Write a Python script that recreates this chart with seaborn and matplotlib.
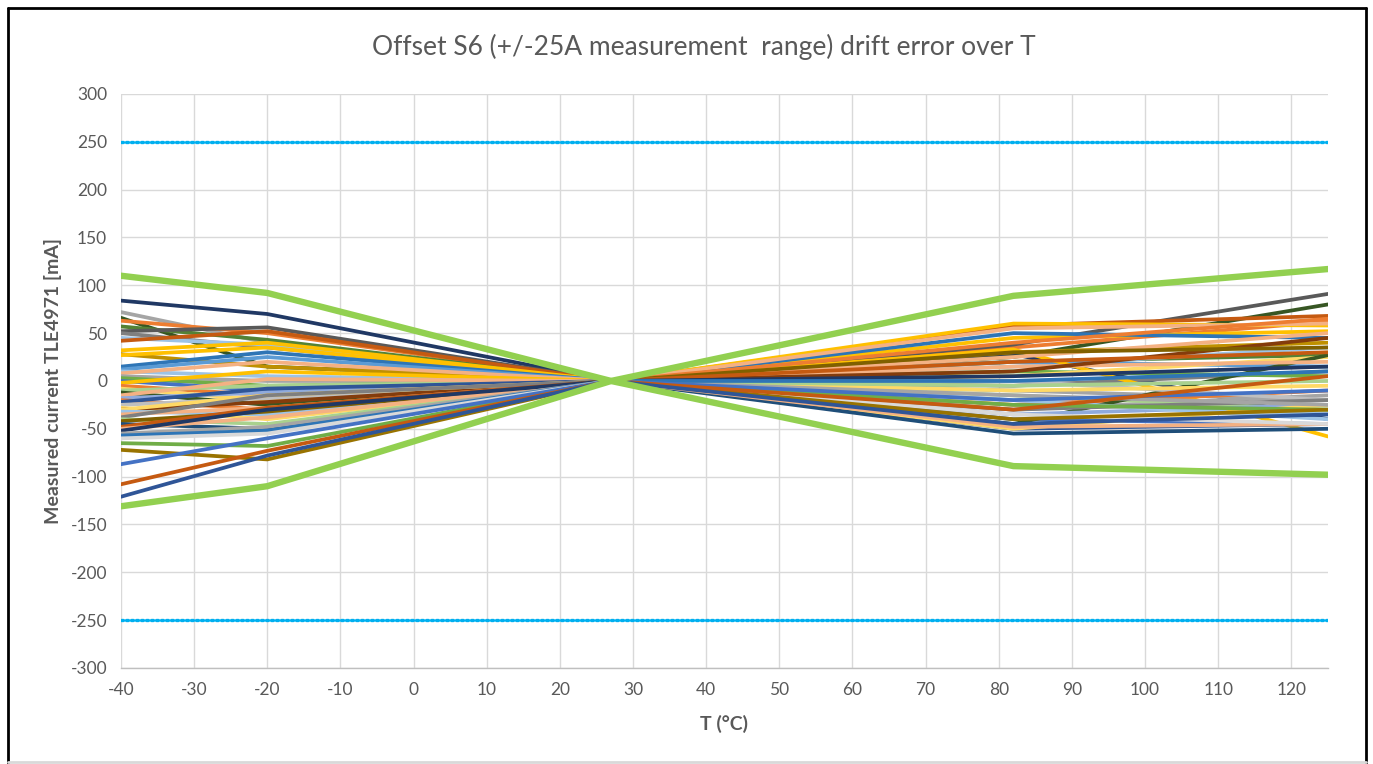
import numpy as np
import pandas as pd
import matplotlib.pyplot as plt
import seaborn as sns
from matplotlib.lines import Line2D

# measurement temperatures (°C); all curves are zeroed at the reference temperature
temps = [-40, -20, 27, 82, 125]

# offset drift per device [mA] at -40, -20, 82 and 125 °C
at_m40 = [84, 72, 66, 63, 57, 52, 50, 45, 42, 32, 28, 27, 15, 12, 10, 8, 5, 3, 0, -2,
          -5, -8, -10, -12, -15, -18, -20, -22, -25, -28, -30, -30, -32, -35, -38, -40,
          -42, -45, -48, -50, -52, -55, -57, -60, -65, -72, -87, -108, -121]
at_m20 = [70, 40, 15, 50, 43, 56, 35, 38, 52, 40, 15, 35, 30, 25, 5, 20, 0, -5, -10, 10,
          -15, -20, -5, -25, 2, -12, -30, -8, -18, -40, -22, -15, -35, -28, -15, -45,
          -32, -50, -28, -38, -30, -48, -52, -55, -68, -82, -60, -73, -78]
at_82 = [28, -10, 25, 35, 20, 38, -5, 15, 58, 45, 30, 60, 50, 20, -20, 55, -30, 10, -40, 33,
         -25, 5, -15, -45, 15, -35, 40, -50, 0, -10, 10, -50, -20, 25, -30, -5,
         30, -55, 20, -48, 5, -15, 0, -35, -25, -40, -20, -30, -45]
at_125 = [-40, -20, 80, 62, 27, 91, 10, 35, 68, 52, 40, 58, 45, 15, -35, 60, -15, 5, -45, -58,
          -10, 25, -30, 27, 20, -25, 65, -45, -20, -5, 45, -25, -40, 50, -20, 0,
          35, -50, 30, -45, 15, -25, 10, -45, -30, -30, -10, 5, -35]
line_colors = ['#203864', '#A5A5A5', '#375623', '#ED7D31', '#548235', '#595959', '#7F7F7F',
               '#9DC3E6', '#C55A11', '#FFC000', '#BF9000', '#FFC000', '#2E75B6', '#5B9BD5',
               '#9DC3E6', '#F4B183', '#A5A5A5', '#70AD47', '#4472C4', '#FFC000', '#ED7D31',
               '#FFD966', '#A9D18E', '#385723', '#F4B183', '#8FAADC', '#ED7D31', '#2F5597',
               '#BFBFBF', '#FFD966', '#843C0C', '#FFD966', '#9DC3E6', '#F4B183', '#7F7F7F',
               '#A9D18E', '#806000', '#1F4E79', '#C55A11', '#F4B183', '#203864', '#A5A5A5',
               '#2E75B6', '#D9D9D9', '#70AD47', '#997300', '#4472C4', '#C55A11', '#2F5597']

# drift limits [mA]
limit_upper = [110, 92, 0, 89, 117]
limit_lower = [-131, -110, 0, -89, -98]
range_limit = 250
range_temps = [-40, 125]

rows = []
for i in range(len(at_m40)):
    vals = [at_m40[i], at_m20[i], 0, at_82[i], at_125[i]]
    for t, v in zip(temps, vals):
        rows.append({"dev": f"d{i}", "T": t, "I": v})
df = pd.DataFrame(rows)
lim = pd.DataFrame({"dev": ["up"] * 5 + ["lo"] * 5, "T": temps * 2,
                    "I": limit_upper + limit_lower})
rng = pd.DataFrame({"dev": ["p", "p", "n", "n"], "T": range_temps * 2,
                    "I": [range_limit, range_limit, -range_limit, -range_limit]})

sns.set_theme(style="white")
plt.rcParams['font.family'] = ['Lato', 'DejaVu Sans']
plt.rcParams['axes.unicode_minus'] = False
txt = '#595959'

fig = plt.figure(figsize=(13.73, 7.64), dpi=100)
ax = fig.add_axes([0.0881, 0.1257, 0.8791, 0.7513])

pal = {f"d{i}": c for i, c in enumerate(line_colors)}
sns.lineplot(data=df, x="T", y="I", hue="dev", palette=pal, linewidth=2.7,
             legend=False, ax=ax, sort=False)
sns.lineplot(data=lim, x="T", y="I", hue="dev", palette={"up": '#92D050', "lo": '#92D050'},
             linewidth=4.6, legend=False, ax=ax, sort=False)
sns.lineplot(data=rng, x="T", y="I", hue="dev", palette={"p": '#00B0F0', "n": '#00B0F0'},
             linewidth=2.4, linestyle=(0, (0.6, 0.9)), legend=False, ax=ax, sort=False)
for ln in ax.lines[-2:]:
    ln.set_dash_capstyle('round')

ax.set_xlim(-40, 125)
ax.set_ylim(-300, 300)
ax.set_xticks(np.arange(-40, 121, 10))
ax.set_yticks(np.arange(-300, 301, 50))
ax.grid(True, color='#D9D9D9', linewidth=1)
ax.set_axisbelow(True)
for s in ['top', 'right', 'left']:
    ax.spines[s].set_visible(False)
ax.spines['bottom'].set_color('#BFBFBF')
ax.spines['bottom'].set_linewidth(1)
ax.tick_params(axis='both', length=0, labelsize=12.5, labelcolor=txt, pad=10)

ax.set_xlabel("T (°C)", fontsize=14, fontweight='bold', color=txt, labelpad=12)
ax.set_ylabel("Measured current TLE4971 [mA]", fontsize=14, fontweight='bold', color=txt,
              labelpad=6)
fig.text(0.5125, 0.938, "Offset S6 (+/-25A measurement  range) drift error over T",
         ha='center', va='center', fontsize=19, color=txt)

# chart frame
fig.add_artist(Line2D([0.0058, 0.0058], [0.0, 0.99], transform=fig.transFigure,
                      color='black', linewidth=2))
fig.add_artist(Line2D([0.0058, 0.9949], [0.99, 0.99], transform=fig.transFigure,
                      color='black', linewidth=2))
fig.add_artist(Line2D([0.9949, 0.9949], [0.0, 0.99], transform=fig.transFigure,
                      color='black', linewidth=2))
fig.add_artist(Line2D([0.0058, 0.9949], [0.003, 0.003], transform=fig.transFigure,
                      color='#D9D9D9', linewidth=2))

fig.savefig("out.png", dpi=100)
